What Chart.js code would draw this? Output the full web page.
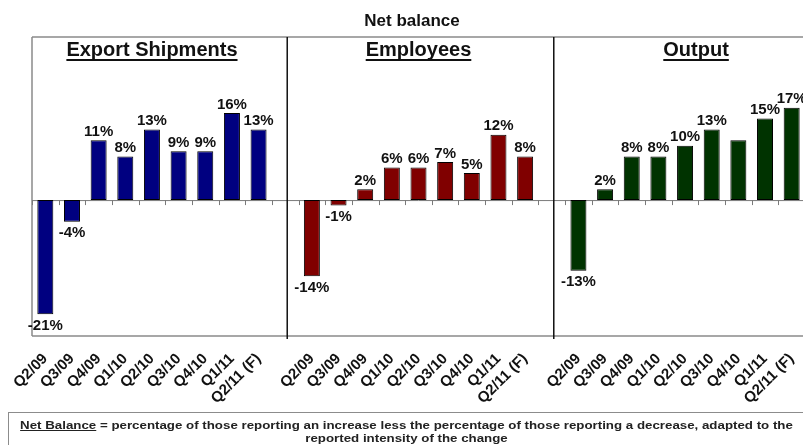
<!DOCTYPE html>
<html>
<head>
<meta charset="utf-8">
<title>Net balance</title>
<script src="https://cdn.jsdelivr.net/npm/chart.js@4.4.1/dist/chart.umd.min.js"></script>
<style>
  html, body { margin: 0; padding: 0; background: #fff; overflow: hidden; }
  #wrap { position: relative; width: 803px; height: 445px; overflow: hidden; }
  #chart { position: absolute; left: 0; top: 0; }
  #note {
    position: absolute; left: 8px; top: 412px; width: 797px; height: 40px;
    border: 1px solid #8c8c8c; box-sizing: border-box;
  }
  #note div {
    position: absolute; left: 0; right: 0; top: 6px;
    font-family: "Liberation Sans", Arial, sans-serif; font-weight: bold;
    font-size: 10px; line-height: 13px; color: #222; text-align: center;
    white-space: nowrap; transform: scaleX(1.33); transform-origin: 50% 0;
  }
  #note u { text-decoration-thickness: 1px; }
</style>
</head>
<body>
<div id="wrap">
  <canvas id="chart" width="806" height="445"></canvas>
  <div id="note"><div><u>Net Balance</u> = percentage of those reporting an increase less the percentage of those reporting a decrease, adapted to the<br>reported intensity of the change</div></div>
</div>
<script>
// Survey quarters shown in each panel
const quarters = ['Q2/09', 'Q3/09', 'Q4/09', 'Q1/10', 'Q2/10', 'Q3/10', 'Q4/10', 'Q1/11', 'Q2/11 (F)'];

// Net balance (%) per quarter
const exportShipments = [-21, -4, 11, 8, 13, 9, 9, 16, 13];
const employees = [-14, -1, 2, 6, 6, 7, 5, 12, 8];
const output = [-13, 2, 8, 8, 10, 13, 11, 15, 17];

// Quarters whose value label is left off in the Output panel
const outputUnlabelled = ['Q4/10'];

const panelTitles = ['Export Shipments', 'Employees', 'Output'];

// One blank category separates neighbouring panels
const gap = [''];
const labels = [...quarters, ...gap, ...quarters, ...gap, ...quarters];
const blank = quarters.map(() => null);
const exportData = [...exportShipments, null, ...blank, null, ...blank];
const employeesData = [...blank, null, ...employees, null, ...blank];
const outputData = [...blank, null, ...blank, null, ...output];
const outputStart = quarters.length * 2 + 2;

const FONT = '"Liberation Sans", Arial, sans-serif';

const framePlugin = {
  id: 'frame',
  beforeDatasetsDraw(chart) {
    const { ctx, chartArea: a, scales: { x, y } } = chart;
    const y0 = y.getPixelForValue(0);
    const w = (x.getPixelForValue(1) - x.getPixelForValue(0));
    ctx.save();
    ctx.strokeStyle = '#8a8a8a';
    ctx.lineWidth = 1.5;
    ctx.beginPath();
    ctx.moveTo(a.left, a.top); ctx.lineTo(a.right, a.top);
    ctx.moveTo(a.left, a.top); ctx.lineTo(a.left, a.bottom);
    ctx.moveTo(a.left, a.bottom); ctx.lineTo(a.right, a.bottom);
    ctx.stroke();
    // zero line with category tick marks
    ctx.lineWidth = 1;
    ctx.strokeStyle = '#7a7a7a';
    ctx.beginPath();
    ctx.moveTo(a.left, y0 + 0.5); ctx.lineTo(a.right, y0 + 0.5);
    for (let i = 0; i <= labels.length; i++) {
      const px = Math.round(x.getPixelForValue(i) - w / 2) + 0.5;
      ctx.moveTo(px, y0); ctx.lineTo(px, y0 + 5);
    }
    ctx.stroke();
    ctx.restore();
  },
  afterDatasetsDraw(chart) {
    const { ctx, chartArea: a, scales: { x } } = chart;
    ctx.save();
    // panel dividers in the middle of the blank categories
    ctx.strokeStyle = '#111';
    ctx.lineWidth = 1.5;
    ctx.beginPath();
    [quarters.length, quarters.length * 2 + 1].forEach(i => {
      const px = x.getPixelForValue(i) + 2;
      ctx.moveTo(px, a.top); ctx.lineTo(px, a.bottom + 3);
    });
    ctx.stroke();

    // value labels
    ctx.font = 'bold 15px ' + FONT;
    ctx.fillStyle = '#111';
    ctx.textAlign = 'center';
    chart.data.datasets.forEach((ds, di) => {
      const meta = chart.getDatasetMeta(di);
      meta.data.forEach((bar, i) => {
        const v = ds.data[i];
        if (v === null || v === undefined) return;
        if (di === 2 && i >= outputStart && outputUnlabelled.includes(labels[i])) return;
        const txt = v + '%';
        if (v >= 0) {
          ctx.textBaseline = 'bottom';
          ctx.fillText(txt, bar.x, bar.y - 1);
        } else {
          ctx.textBaseline = 'top';
          ctx.fillText(txt, bar.x, bar.y + 4);
        }
      });
    });

    // panel titles, underlined
    ctx.font = 'bold 20px ' + FONT;
    ctx.textBaseline = 'middle';
    const centres = [
      x.getPixelForValue(4),
      x.getPixelForValue(14),
      x.getPixelForValue(24) + 11
    ];
    panelTitles.forEach((t, k) => {
      const cx = centres[k];
      ctx.fillText(t, cx, 50);
      const tw = ctx.measureText(t).width;
      ctx.fillRect(cx - tw / 2, 59, tw, 2);
    });

    // chart title
    ctx.font = 'bold 17px ' + FONT;
    ctx.fillText('Net balance', 412, 21);
    ctx.restore();
  }
};

const barStyle = (color) => ({
  backgroundColor: color,
  borderColor: '#000',
  borderWidth: 1,
  borderSkipped: false,
  grouped: false,
  categoryPercentage: 1,
  barPercentage: 0.6
});

new Chart(document.getElementById('chart'), {
  type: 'bar',
  data: {
    labels,
    datasets: [
      { label: panelTitles[0], data: exportData, ...barStyle('#000080') },
      { label: panelTitles[1], data: employeesData, ...barStyle('#800000') },
      { label: panelTitles[2], data: outputData, ...barStyle('#003300') }
    ]
  },
  options: {
    responsive: false,
    animation: false,
    devicePixelRatio: 1,
    layout: { padding: { left: 32, top: 37, right: 1, bottom: 0 } },
    plugins: { legend: { display: false }, title: { display: false }, tooltip: { enabled: false } },
    scales: {
      x: {
        grid: { display: false, drawTicks: false },
        border: { display: false },
        ticks: {
          autoSkip: false,
          minRotation: 45,
          maxRotation: 45,
          padding: 14,
          color: '#111',
          font: { family: FONT, weight: 'bold', size: 15 }
        },
        afterFit(scale) {
          scale.height = 109;
          scale.paddingLeft = 0;
          scale.paddingRight = 0;
        }
      },
      y: {
        display: false,
        min: -25,
        max: 30
      }
    }
  },
  plugins: [framePlugin]
});
</script>
</body>
</html>
